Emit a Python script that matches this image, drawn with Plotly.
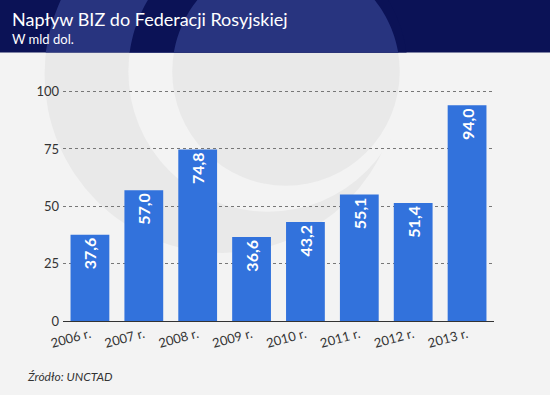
import numpy as np
import plotly.graph_objects as go

years = ["2006 r.", "2007 r.", "2008 r.", "2009 r.", "2010 r.", "2011 r.", "2012 r.", "2013 r."]
values = [37.6, 57.0, 74.8, 36.6, 43.2, 55.1, 51.4, 94.0]
y_ticks = [0, 25, 50, 75, 100]

title = "Napływ BIZ do Federacji Rosyjskiej"
subtitle = "W mld dol."
source = "Źródło: UNCTAD"

W, H = 550, 395
YMAX = 102
L, R, B = 62.5, 55.5, 74
PH = 229 * YMAX / 100
T = H - B - PH
PW = W - L - R

def px(x):
    return (x - L) / PW

def py(y):
    return (H - B - y) / PH

BG = "#f3f3f3"
WM = "#e9e9e9"
NAVY = "#0b1256"
NAVY_L = "#28347f"
BAR = "#3272dc"

def circle(cx, cy, r, color):
    return dict(type="circle", xref="paper", yref="paper", layer="below",
                x0=px(cx - r), x1=px(cx + r), y0=py(cy + r), y1=py(cy - r),
                fillcolor=color, line=dict(width=0))

def clipped_circle(cx, cy, r, ymax, color):
    t = np.linspace(0, 2 * np.pi, 200)
    xs = cx + r * np.cos(t)
    ys = np.clip(cy + r * np.sin(t), -10, ymax)
    pts = " L ".join(f"{px(a):.5f},{py(b):.5f}" for a, b in zip(xs, ys))
    return dict(type="path", xref="paper", yref="paper", layer="below",
                path="M " + pts + " Z", fillcolor=color, line=dict(width=0))

circles = [(222, 75, 178), (268, 72, 140), (286, 72, 114)]
shapes = [
    circle(*circles[0], WM),
    circle(*circles[1], BG),
    circle(*circles[2], WM),
    dict(type="rect", xref="paper", yref="paper", layer="below",
         x0=px(-5), x1=px(W + 5), y0=py(53), y1=py(-5), fillcolor=NAVY, line=dict(width=0)),
    clipped_circle(*circles[0], 53, NAVY_L),
    clipped_circle(*circles[1], 53, NAVY),
    clipped_circle(*circles[2], 53, NAVY_L),
]

labels = [f"{v:.1f}".replace(".", ",") for v in values]

fig = go.Figure(go.Bar(
    x=years, y=values, text=labels,
    marker=dict(color=BAR, line=dict(width=0)),
    textposition="inside", insidetextanchor="end", textangle=-90,
    textfont=dict(family="Lato", size=16, color="white", weight="bold"),
    hoverinfo="skip",
))

fig.update_layout(
    width=W, height=H,
    margin=dict(l=L, r=R, t=T, b=B, pad=0),
    paper_bgcolor=BG, plot_bgcolor="rgba(0,0,0,0)",
    bargap=0.28, showlegend=False,
    shapes=shapes,
    font=dict(family="Lato", color="#333333"),
    annotations=[
        dict(text=title, x=px(9), y=py(20), xref="paper", yref="paper",
             xanchor="left", yanchor="middle", showarrow=False,
             font=dict(family="Lato", size=18, color="white")),
        dict(text=subtitle, x=px(9), y=py(40), xref="paper", yref="paper",
             xanchor="left", yanchor="middle", showarrow=False,
             font=dict(family="Lato", size=13, color="white")),
        dict(text="<i>" + source + "</i>", x=px(24), y=py(376), xref="paper", yref="paper",
             xanchor="left", yanchor="middle", showarrow=False,
             font=dict(family="Lato", size=12, color="#333333")),
    ],
)

fig.update_xaxes(
    tickangle=-15, tickfont=dict(family="Lato", size=13, color="#333333"),
    showline=True, linecolor="#333333", linewidth=1, showgrid=False,
    ticks="", range=[-0.5, len(years) - 0.5],
)
fig.update_yaxes(
    range=[0, YMAX], tickvals=y_ticks, ticktext=[str(v) for v in y_ticks],
    tickfont=dict(family="Lato", size=13, color="#333333"),
    showgrid=True, gridcolor="#777777", griddash="dot", gridwidth=1,
    zeroline=False, showline=False, ticks="", ticklabelstandoff=3,
)

fig.write_html(
    "out.html",
    config={"displayModeBar": False, "staticPlot": True},
    post_script="document.body.style.margin='0';document.body.style.background='" + BG + "';",
)
